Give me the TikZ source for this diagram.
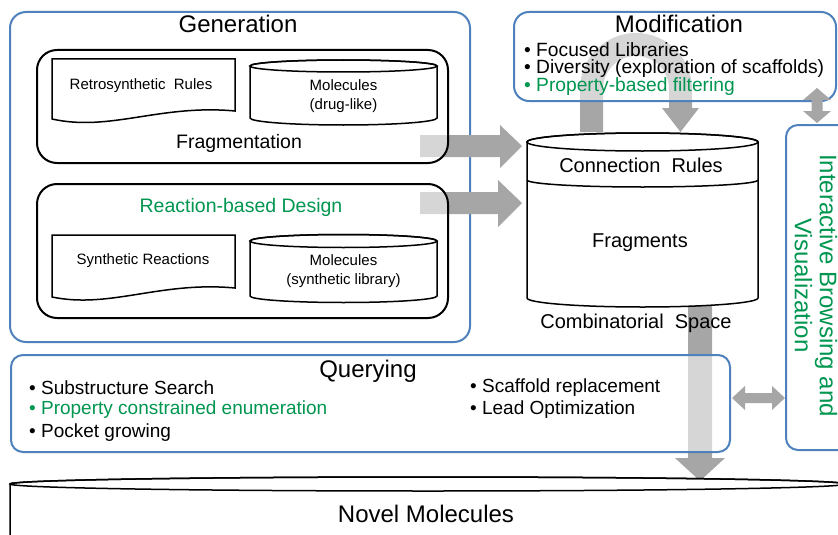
\documentclass[tikz,border=0pt]{standalone}
\usepackage{fontspec}
\setmainfont{Liberation Sans}
\definecolor{boxblue}{RGB}{79,129,189}
\definecolor{txtgreen}{RGB}{0,150,80}
\definecolor{arrgray}{RGB}{166,166,166}
\tikzset{
  bluebox/.style={draw=boxblue,line width=2pt,rounded corners=15pt},
  blackbox/.style={draw=black,line width=2pt,rounded corners=20pt,fill=white,fill opacity=0.55},
  veil/.style={fill=white,fill opacity=0.55},
  shape line/.style={draw=black,line width=1.5pt,fill=white},
  block/.style={fill=arrgray,draw=none},
  title/.style={font=\fontsize{24}{28}\selectfont,inner sep=0pt},
  mid/.style={font=\fontsize{19.5}{22}\selectfont,inner sep=0pt},
  big mid/.style={font=\fontsize{20}{24}\selectfont,inner sep=0pt},
  small/.style={font=\fontsize{15}{19}\selectfont,inner sep=0pt,align=center},
  bullet/.style={font=\fontsize{19.2}{22}\selectfont,inner sep=0pt,anchor=west},
  qbullet/.style={font=\fontsize{19}{22}\selectfont,inner sep=0pt,anchor=west},
}
\begin{document}
\begin{tikzpicture}[x=1pt,y=1pt]
\useasboundingbox (0,0) rectangle (838,-535);
\clip (0,0) rectangle (838,-535);

% Generation frame
\draw[bluebox,rounded corners=16pt] (10,-12) rectangle (470,-342);

% block arrows (drawn first, the boxes veil them)
\path[block] (420,-135) -- (500,-135) -- (500,-125) -- (522,-146) -- (500,-168) -- (500,-157) -- (420,-157) -- cycle;
\path[block] (420,-192) -- (498,-192) -- (498,-180) -- (522,-203) -- (498,-227) -- (498,-214) -- (420,-214) -- cycle;
% loop from the connection rules through the modification box and back
\path[block] (580,-132) -- (580,-89) arc[start angle=180,end angle=0,radius=56]
  -- (692,-108) -- (699,-108) -- (680.5,-132) -- (662,-108) -- (669,-108) -- (669,-89)
  arc[start angle=0,end angle=180,radius=33] -- (603,-132) -- cycle;
% combinatorial space -> novel molecules
\path[block] (688,-300) -- (712,-300) -- (712,-458) -- (725,-458) -- (700,-481) -- (675,-458) -- (688,-458) -- cycle;

% Fragmentation group
\draw[blackbox] (37,-50) rectangle (448,-163);
\draw[shape line] (52,-59) -- (235,-59) -- (235,-111) .. controls (160,-104) and (110,-132) .. (52,-119) -- cycle;
\draw[shape line] (250,-66) -- (250,-118) arc[start angle=180,end angle=360,x radius=93.5,y radius=7]
  -- (437,-66) arc[start angle=0,end angle=180,x radius=93.5,y radius=6] -- cycle;
\draw[line width=1.5pt] (343.5,-66) ellipse[x radius=93.5,y radius=6];
\node[small] (retro) at (141,-86) {Retrosynthetic\ \ Rules};
\node[small] (moldrug) at (343.5,-96) {Molecules\\(drug-like)};
\node[mid] (frag) at (239,-143) {Fragmentation};

% Reaction-based group
\draw[blackbox] (37,-184) rectangle (448,-318);
\draw[shape line] (52,-235) -- (235,-235) -- (235,-288) .. controls (160,-281) and (110,-309) .. (52,-297) -- cycle;
\draw[shape line] (250,-241) -- (250,-296) arc[start angle=180,end angle=360,x radius=93.5,y radius=6.5]
  -- (437,-241) arc[start angle=0,end angle=180,x radius=93.5,y radius=6.5] -- cycle;
\draw[line width=1.5pt] (343.5,-241) ellipse[x radius=93.5,y radius=6.5];
\node[small] (synreac) at (143,-261) {Synthetic Reactions};
\node[small] (molsyn) at (343.5,-271.5) {Molecules\\(synthetic library)};
\node[mid,text=txtgreen] (react) at (241,-207) {Reaction-based Design};

\node[title] (gen) at (238,-24) {Generation};

% Modification
\draw[bluebox,veil] (514,-12) rectangle (836,-101);
\node[title] (modif) at (679,-24) {Modification};
\node[bullet] (m1) at (524,-50) {\textbullet\ Focused Libraries};
\node[bullet] (m2) at (524,-68.5) {\textbullet\ Diversity (exploration of scaffolds)};
\node[bullet,text=txtgreen] (m3) at (524,-87) {\textbullet\ Property-based filtering};

% Combinatorial space
\draw[shape line] (527,-142) -- (527,-298) arc[start angle=180,end angle=360,x radius=115.5,y radius=9]
  -- (758,-142) arc[start angle=0,end angle=180,x radius=115.5,y radius=9] -- cycle;
\draw[line width=1.5pt] (642.5,-142) ellipse[x radius=115.5,y radius=9];
\draw[line width=1.5pt] (527,-180) arc[start angle=180,end angle=360,x radius=115.5,y radius=7];
\node[big mid] (conn) at (641,-165) {Connection\ \ Rules};
\node[big mid] (frags) at (640,-243) {Fragments};
\node[big mid] (comb) at (636,-323) {Combinatorial\ \ Space};

% Interactive browsing
\draw[bluebox,rounded corners=12pt] (786,-125) rectangle (870,-450);
\node[title,text=txtgreen,rotate=-90,align=center,font=\fontsize{24}{25}\selectfont] (browse) at (816,-285.5)
  {Interactive Browsing and\\Visualization};

% Querying
\draw[bluebox,veil,rounded corners=12pt] (11,-355) rectangle (730,-452);
\node[title] (query) at (368,-371) {Querying};
\node[qbullet] (q1) at (29,-388) {\textbullet\ Substructure Search};
\node[qbullet,text=txtgreen] (q2) at (29,-410) {\textbullet\ Property constrained enumeration};
\node[qbullet] (q3) at (29,-433) {\textbullet\ Pocket growing};
\node[qbullet] (q4) at (470,-388) {\textbullet\ Scaffold replacement};
\node[qbullet] (q5) at (470,-410) {\textbullet\ Lead Optimization};

% two-way arrows to the browsing panel
\path[block] (817,-88) -- (831,-100) -- (822.5,-100) -- (822.5,-111) -- (831,-111) -- (817,-123)
  -- (803,-111) -- (811.5,-111) -- (811.5,-100) -- (803,-100) -- cycle;
\path[block] (732,-398) -- (745,-386) -- (745,-393) -- (772,-393) -- (772,-386) -- (785,-398)
  -- (772,-410) -- (772,-403) -- (745,-403) -- (745,-410) -- cycle;

% Novel molecules
\draw[shape line] (10,-484) -- (10,-560) -- (846,-560) -- (846,-484) arc[start angle=0,end angle=180,x radius=418,y radius=7] -- cycle;
\draw[line width=1.5pt] (428,-484) ellipse[x radius=418,y radius=7];
\node[title] (novel) at (426,-514) {Novel Molecules};
\end{tikzpicture}
\end{document}
